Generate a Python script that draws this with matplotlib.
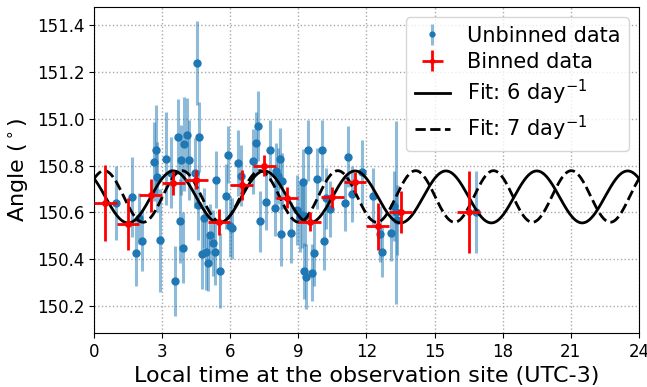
import numpy as np
import matplotlib
matplotlib.use("Agg")
import matplotlib.pyplot as plt

# unbinned measurements: hour, angle, error
t_raw = [0.97, 1.68, 1.86, 1.99, 2.12, 2.64, 2.75, 2.78, 2.92, 3.16, 3.41, 3.56,
         3.68, 3.78, 3.85, 3.92, 3.97, 4.11, 4.19, 4.44, 4.52, 4.58, 4.63, 4.75,
         4.83, 4.92, 5.04, 5.12, 5.24, 5.35, 5.39, 5.56, 5.83, 5.91, 5.97, 6.09,
         6.34, 6.49, 6.98, 7.14, 7.23, 7.32, 7.58, 7.77, 7.98, 8.02, 8.10, 8.21,
         8.22, 8.30, 8.68, 8.93, 9.05, 9.15, 9.19, 9.24, 9.27, 9.33, 9.43, 9.60,
         9.69, 9.81, 10.03, 10.11, 10.22, 10.39, 11.07, 11.20, 11.34, 11.80, 12.30,
         12.59, 12.68, 13.10, 13.22, 13.28, 13.34, 16.81]
a_raw = [150.640, 150.666, 150.427, 150.574, 150.479, 150.817, 150.867, 150.750,
         150.480, 150.830, 150.770, 150.307, 150.923, 150.563, 150.825, 150.450,
         150.893, 150.929, 150.824, 150.769, 151.239, 150.633, 150.923, 150.423,
         150.576, 150.430, 150.383, 150.504, 150.469, 150.430, 150.740, 150.351,
         150.668, 150.847, 150.540, 150.533, 150.812, 150.757, 150.818, 150.898,
         150.970, 150.562, 150.643, 150.866, 150.619, 150.776, 150.757, 150.829,
         150.509, 150.733, 150.514, 150.611, 150.580, 150.590, 150.730, 150.351,
         150.585, 150.326, 150.866, 150.343, 150.426, 150.743, 150.866, 150.476,
         150.661, 150.614, 150.640, 150.837, 150.678, 150.771, 150.668, 150.509,
         150.433, 150.514, 150.628, 150.600, 150.569, 150.600]
e_raw = [0.16, 0.17, 0.14, 0.11, 0.13, 0.17, 0.19, 0.15, 0.22, 0.20, 0.15, 0.15,
         0.16, 0.18, 0.15, 0.15, 0.20, 0.16, 0.17, 0.15, 0.18, 0.15, 0.15, 0.15,
         0.13, 0.16, 0.12, 0.13, 0.14, 0.14, 0.12, 0.16, 0.14, 0.12, 0.13, 0.13,
         0.14, 0.13, 0.14, 0.13, 0.15, 0.13, 0.12, 0.13, 0.12, 0.12, 0.12, 0.13,
         0.14, 0.12, 0.13, 0.15, 0.15, 0.14, 0.14, 0.12, 0.13, 0.14, 0.13, 0.12,
         0.14, 0.13, 0.13, 0.12, 0.13, 0.12, 0.12, 0.13, 0.12, 0.14, 0.12, 0.12,
         0.11, 0.12, 0.15, 0.39, 0.15, 0.175]

# hourly bins
t_bin = [0.5, 1.5, 2.5, 3.5, 4.5, 5.5, 6.5, 7.5, 8.5, 9.5, 10.5, 11.5, 12.5, 13.5, 16.5]
a_bin = [150.640, 150.550, 150.673, 150.726, 150.740, 150.560, 150.716, 150.800,
         150.663, 150.561, 150.664, 150.728, 150.540, 150.600, 150.600]
e_bin = [0.163, 0.11, 0.07, 0.05, 0.04, 0.055, 0.065, 0.045, 0.045, 0.04, 0.045,
         0.045, 0.10, 0.09, 0.175]

# fits: mean, amplitude, cycles per day, hour of maximum
fit6 = (150.666, 0.111, 6, 3.5)
fit7 = (150.668, 0.110, 7, 0.45)


def sine(t, p):
    m, amp, f, t0 = p
    return m + amp * np.cos(2 * np.pi * (t - t0) * f / 24.0)


fig = plt.figure(figsize=(6.47, 3.87), dpi=100)
ax = fig.add_axes([0.1453, 0.1395, 0.8423, 0.8425])

h1 = ax.errorbar(t_raw, a_raw, yerr=e_raw, fmt='o', color='C0', ms=5,
                 ecolor=(0.12, 0.47, 0.71, 0.5), elinewidth=2.2, capsize=0,
                 label='Unbinned data', zorder=2)

tt = np.linspace(0, 24, 600)
l6, = ax.plot(tt, sine(tt, fit6), 'k-', lw=2, label='Fit: 6 day$^{-1}$', zorder=3)
l7, = ax.plot(tt, sine(tt, fit7), 'k--', lw=2, label='Fit: 7 day$^{-1}$', zorder=3)

h2 = ax.errorbar(t_bin, a_bin, yerr=e_bin, xerr=0.5, fmt='o', color='red', ms=4,
                 elinewidth=2, capsize=0, label='Binned data', zorder=4)

ax.set_xlim(0, 24)
ax.set_ylim(150.085, 151.477)
ax.set_xticks(np.arange(0, 25, 3))
ax.set_yticks([150.2, 150.4, 150.6, 150.8, 151.0, 151.2, 151.4])
ax.tick_params(labelsize=12)
ax.grid(True, linestyle=':', color='#aaaaaa', linewidth=1)
ax.set_xlabel('Local time at the observation site (UTC-3)', fontsize=16)
ax.set_ylabel(r'Angle ($^\circ$)', fontsize=16)

ax.legend([h1, h2, l6, l7],
          ['Unbinned data', 'Binned data', 'Fit: 6 day$^{-1}$', 'Fit: 7 day$^{-1}$'],
          loc='upper right', fontsize=15, handlelength=1.7, borderpad=0.4,
          labelspacing=0.3, markerscale=0.7)

fig.savefig('out.png', dpi=100)
